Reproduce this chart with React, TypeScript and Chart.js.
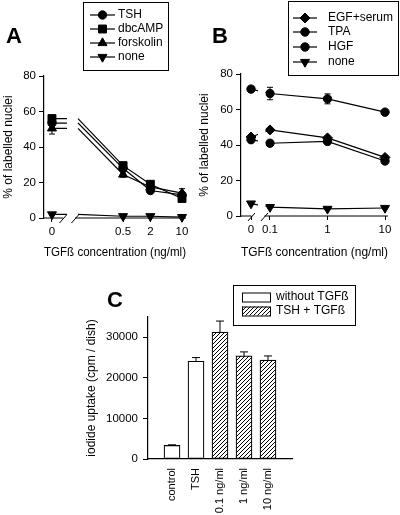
import React, { useEffect, useRef } from 'react';
import { Chart, registerables } from 'chart.js';
import { drawPoint } from 'chart.js/helpers';

Chart.register(...registerables);

const FONT = "'Liberation Sans', Arial, Helvetica, sans-serif";
Chart.defaults.font.family = FONT;
Chart.defaults.font.size = 12;
Chart.defaults.color = '#000';

// ---------------- Panel A data ----------------
const concA = [0, 0.5, 2, 10];
const concLabelsA = ['0', '0.5', '2', '10'];
const tshA = [53.5, 28, 15.5, 13];
const dbcampA = [56, 29.5, 19, 11];
const forskolinA = [50.5, 24.5, 17.5, 14];
const noneA = [2, 1, 1, 0.5];
const tshErrA = [1.5, 1, 1, 1];
const dbcampErrA = [1.5, 1.5, 1, 1];
const forskolinErrA = [3.2, 1.5, 1, 2.5];
const noneErrA = [0.5, 0.3, 0.3, 0.3];
const yTicksA = [0, 20, 40, 60, 80];

// ---------------- Panel B data ----------------
const concB = [0, 0.1, 1, 10];
const concLabelsB = ['0', '0.1', '1', '10'];
const egfB = [44.5, 48.5, 44, 33];
const tpaB = [43, 41, 42, 31];
const hgfB = [71.5, 69, 66, 58.5];
const noneB = [7, 5, 4, 4.5];
const egfErrB = [1, 1, 1, 1];
const tpaErrB = [1, 1, 1, 1];
const hgfErrB = [1, 3.5, 2.8, 1];
const noneErrB = [0.5, 0.5, 0.5, 0.5];
const yTicksB = [0, 20, 40, 60, 80];

// ---------------- Panel C data ----------------
const groupsC = ['control', 'TSH', '0.1 ng/ml', '1 ng/ml', '10 ng/ml'];
const uptakeC = [3350, 24100, 31300, 25400, 24400];
const uptakeErrC = [150, 900, 2700, 1000, 1000];
const treatmentC = ['without TGFß', 'without TGFß', 'TSH + TGFß', 'TSH + TGFß', 'TSH + TGFß'];
const seriesC = ['without TGFß', 'TSH + TGFß'];
const yTicksC = [0, 10000, 20000, 30000];

// ---------------- axis geometry (log axis with broken-off zero) ----------------
const A_ZERO = -1.87, A_MIN = -2.046, A_MAX = 1.088, A_STUB_END = -1.539, A_RESUME = -1.296;
const A_BREAK = [-1.627, -1.362];
const B_ZERO = -1.33, B_MIN = -1.504, B_MAX = 1.052;
const B_GAP = [-1.209, -1.078];
const B_BREAK = [-1.322, -1.096];
const tA = (c: number) => (c === 0 ? A_ZERO : Math.log10(c));
const tB = (c: number) => (c === 0 ? B_ZERO : Math.log10(c));

const TICK_SIZE = 11.5;

const panelPlugin: any = {
  id: 'panel',
  beforeDatasetsDraw(chart: any, _a: any, opts: any) {
    const { ctx } = chart;
    const ys = chart.scales.y;
    ctx.save();
    ctx.strokeStyle = '#000';
    ctx.lineWidth = 1;
    chart.data.datasets.forEach((ds: any, di: number) => {
      const meta = chart.getDatasetMeta(di);
      meta.data.forEach((el: any, i: number) => {
        const raw = ds.data[i];
        if (!raw || raw.helper || raw.y == null || !raw.err) return;
        const top = ys.getPixelForValue(raw.y + raw.err);
        const bottom = opts.errUpOnly ? el.y : ys.getPixelForValue(raw.y - raw.err);
        const cap = opts.cap ?? 3;
        ctx.beginPath();
        ctx.moveTo(el.x, top);
        ctx.lineTo(el.x, bottom);
        ctx.moveTo(el.x - cap, top);
        ctx.lineTo(el.x + cap, top);
        if (!opts.errUpOnly) {
          ctx.moveTo(el.x - cap, bottom);
          ctx.lineTo(el.x + cap, bottom);
        }
        ctx.stroke();
      });
    });
    ctx.restore();
    if (opts.gap) {
      const xs = chart.scales.x;
      const g0 = xs.getPixelForValue(opts.gap[0]);
      const g1 = xs.getPixelForValue(opts.gap[1]);
      ctx.save();
      ctx.beginPath();
      ctx.rect(0, 0, chart.width, chart.height);
      ctx.rect(g0, 0, g1 - g0, chart.height);
      ctx.clip('evenodd');
    }
  },
  afterDatasetsDraw(chart: any, _a: any, opts: any) {
    if (opts.gap) chart.ctx.restore();
  },
  afterDraw(chart: any, _a: any, opts: any) {
    const { ctx, chartArea } = chart;
    if (opts.axisBreak) {
      const xs = chart.scales.x;
      const y = chartArea.bottom;
      const b0 = xs.getPixelForValue(opts.axisBreak[0]);
      const b1 = xs.getPixelForValue(opts.axisBreak[1]);
      ctx.save();
      ctx.strokeStyle = '#000';
      ctx.lineWidth = 1.2;
      ctx.beginPath();
      ctx.moveTo(chartArea.left - 0.6, y);
      ctx.lineTo(b0, y);
      ctx.moveTo(b1, y);
      ctx.lineTo(chartArea.right, y);
      ctx.stroke();
      ctx.lineWidth = 1;
      for (const cx of [b0, b1]) {
        ctx.beginPath();
        ctx.moveTo(cx - 3.5, y + 5);
        ctx.lineTo(cx + 3.5, y - 3);
        ctx.stroke();
      }
      ctx.restore();
    }
    if (opts.letter) {
      ctx.save();
      ctx.font = `bold 22px ${FONT}`;
      ctx.fillStyle = '#000';
      ctx.textBaseline = 'alphabetic';
      ctx.textAlign = 'left';
      ctx.fillText(opts.letter.text, opts.letter.x, opts.letter.y);
      ctx.restore();
    }
    if (opts.legend) {
      const L = opts.legend;
      ctx.save();
      ctx.fillStyle = '#fff';
      ctx.fillRect(L.box[0], L.box[1], L.box[2], L.box[3]);
      ctx.strokeStyle = '#000';
      ctx.lineWidth = 1;
      ctx.strokeRect(L.box[0] + 0.5, L.box[1] + 0.5, L.box[2], L.box[3]);
      ctx.font = `12px ${FONT}`;
      ctx.textBaseline = 'middle';
      ctx.textAlign = 'left';
      chart.data.datasets.forEach((ds: any, i: number) => {
        const y = L.rows[i];
        if (L.kind === 'line') {
          ctx.strokeStyle = '#000';
          ctx.lineWidth = 1.2;
          ctx.beginPath();
          ctx.moveTo(L.line[0], y);
          ctx.lineTo(L.line[1], y);
          ctx.stroke();
          ctx.fillStyle = '#000';
          ctx.lineWidth = 1;
          drawPoint(
            ctx,
            { pointStyle: ds.pointStyle, rotation: ds.pointRotation || 0, radius: ds.markerRadius, borderWidth: 1 } as any,
            (L.line[0] + L.line[1]) / 2,
            y
          );
        } else {
          const [sx, sw, sh] = L.swatch;
          ctx.fillStyle = ds.backgroundColor;
          ctx.fillRect(sx, y - sh / 2, sw, sh);
          ctx.strokeStyle = '#000';
          ctx.lineWidth = 1;
          ctx.strokeRect(sx + 0.5, y - sh / 2 + 0.5, sw, sh);
        }
        ctx.fillStyle = '#000';
        ctx.fillText(ds.label, L.textX, y);
      });
      ctx.restore();
    }
  },
};

function lineDs(label: string, data: any[], pointStyle: string, radius: number, rotation = 0) {
  return {
    label,
    data,
    pointStyle,
    pointRotation: rotation,
    markerRadius: radius,
    pointRadius: (c: any) => (c.raw && c.raw.helper ? 0 : radius),
    pointHoverRadius: 0,
    pointBackgroundColor: '#000',
    pointBorderColor: '#000',
    pointBorderWidth: 1,
    borderColor: '#000',
    backgroundColor: '#000',
    borderWidth: 1.2,
    fill: false,
    tension: 0,
    spanGaps: false,
    clip: false,
  };
}

function seriesA(values: number[], errs: number[]) {
  const pts = concA.map((c, i) => ({ x: tA(c), y: values[i], err: errs[i] }));
  return [
    pts[0],
    { x: A_STUB_END, y: values[0], helper: true },
    { x: (A_STUB_END + A_RESUME) / 2, y: null, helper: true },
    { x: A_RESUME, y: values[0], helper: true },
    ...pts.slice(1),
  ];
}

function seriesB(values: number[], errs: number[]) {
  return concB.map((c, i) => ({ x: tB(c), y: values[i], err: errs[i] }));
}

const noPad = (s: any) => {
  s.paddingLeft = 0;
  s.paddingRight = 0;
  s.paddingTop = 0;
  s.paddingBottom = 0;
};

const yAxis = (ticks: number[], max: number, width: number, title: string, titlePad: number) => ({
  type: 'linear',
  min: 0,
  max,
  afterBuildTicks: (s: any) => {
    s.ticks = ticks.map((v) => ({ value: v }));
  },
  ticks: { callback: (v: any) => String(v), font: { size: TICK_SIZE }, color: '#000', padding: 3 },
  grid: { display: true, drawOnChartArea: false, drawTicks: true, tickLength: 5, color: '#000', lineWidth: 1 },
  border: { display: true, color: '#000', width: 1.2 },
  title: { display: true, text: title, font: { size: 12 }, color: '#000', padding: { top: titlePad, bottom: 0 } },
  afterFit: (s: any) => {
    s.width = width;
    noPad(s);
  },
});

const logX = (min: number, max: number, concs: number[], labels: string[], t: (c: number) => number, height: number) => ({
  type: 'linear',
  min,
  max,
  afterBuildTicks: (s: any) => {
    s.ticks = concs.map((c) => ({ value: t(c) }));
  },
  ticks: { callback: (_v: any, i: number) => labels[i], autoSkip: false, maxRotation: 0, font: { size: TICK_SIZE }, color: '#000', padding: 3 },
  grid: { display: true, drawOnChartArea: false, drawTicks: true, tickLength: 4, color: '#000', lineWidth: 1 },
  border: { display: false },
  title: { display: true, text: 'TGFß concentration (ng/ml)', font: { size: 12 }, color: '#000', padding: { top: 0, bottom: 4.8 } },
  afterFit: (s: any) => {
    s.height = height;
    noPad(s);
  },
});

const baseOptions = {
  responsive: false,
  maintainAspectRatio: false,
  animation: false,
  events: [],
};

function configA() {
  return {
    type: 'line',
    data: {
      datasets: [
        lineDs('TSH', seriesA(tshA, tshErrA), 'circle', 4.2),
        lineDs('dbcAMP', seriesA(dbcampA, dbcampErrA), 'rect', 5.6),
        lineDs('forskolin', seriesA(forskolinA, forskolinErrA), 'triangle', 5.2),
        lineDs('none', seriesA(noneA, noneErrA), 'triangle', 5.2, 180),
      ],
    },
    options: {
      ...baseOptions,
      layout: { padding: { left: 0, top: 76, right: 14, bottom: 0 } },
      plugins: {
        legend: { display: false },
        tooltip: { enabled: false },
        panel: {
          axisBreak: A_BREAK,
          cap: 3,
          letter: { text: 'A', x: 6, y: 43 },
          legend: { kind: 'line', box: [83, 2, 85, 68], rows: [15, 29, 43, 57], line: [90, 115], textX: 118 },
        },
      },
      scales: {
        x: logX(A_MIN, A_MAX, concA, concLabelsA, tA, 47),
        y: yAxis(yTicksA, 80, 44, '% of labelled nuclei', 1.8),
      },
    },
    plugins: [panelPlugin],
  };
}

function configB() {
  return {
    type: 'line',
    data: {
      datasets: [
        lineDs('EGF+serum', seriesB(egfB, egfErrB), 'rectRot', 5),
        lineDs('TPA', seriesB(tpaB, tpaErrB), 'circle', 4.2),
        lineDs('HGF', seriesB(hgfB, hgfErrB), 'circle', 4.2),
        lineDs('none', seriesB(noneB, noneErrB), 'triangle', 5.2, 180),
      ],
    },
    options: {
      ...baseOptions,
      layout: { padding: { left: 0, top: 74, right: 12, bottom: 0 } },
      plugins: {
        legend: { display: false },
        tooltip: { enabled: false },
        panel: {
          axisBreak: B_BREAK,
          gap: B_GAP,
          cap: 3,
          letter: { text: 'B', x: 16, y: 43 },
          legend: { kind: 'line', box: [92, 1, 110, 74], rows: [18, 32, 47, 62], line: [97, 121], textX: 132 },
        },
      },
      scales: {
        x: logX(B_MIN, B_MAX, concB, concLabelsB, tB, 49),
        y: yAxis(yTicksB, 80, 45, '% of labelled nuclei', 1.8),
      },
    },
    plugins: [panelPlugin],
  };
}

function makeHatch(ctx: CanvasRenderingContext2D) {
  const c = document.createElement('canvas');
  c.width = 4;
  c.height = 4;
  const g = c.getContext('2d')!;
  g.fillStyle = '#fff';
  g.fillRect(0, 0, 4, 4);
  g.strokeStyle = '#000';
  g.lineWidth = 1;
  g.beginPath();
  g.moveTo(0, 4);
  g.lineTo(4, 0);
  g.moveTo(-1, 1);
  g.lineTo(1, -1);
  g.moveTo(3, 5);
  g.lineTo(5, 3);
  g.stroke();
  return ctx.createPattern(c, 'repeat');
}

function configC(ctx: CanvasRenderingContext2D) {
  const hatch = makeHatch(ctx);
  const pts = groupsC.map((_, i) => ({ x: i, y: uptakeC[i], err: uptakeErrC[i], t: treatmentC[i] }));
  return {
    type: 'bar',
    data: {
      datasets: seriesC.map((name, k) => ({
        label: name,
        data: pts.filter((p) => p.t === name),
        backgroundColor: k === 0 ? '#fff' : hatch,
        borderColor: '#000',
        borderWidth: 1.2,
        borderSkipped: false,
        barThickness: 16,
        grouped: false,
      })),
    },
    options: {
      ...baseOptions,
      layout: { padding: { left: 0, top: 52, right: 108, bottom: 0 } },
      plugins: {
        legend: { display: false },
        tooltip: { enabled: false },
        panel: {
          errUpOnly: true,
          cap: 4,
          letter: { text: 'C', x: 107, y: 42 },
          legend: { kind: 'box', box: [233, 20, 122, 40], rows: [32, 46], swatch: [242, 28, 9], textX: 276 },
        },
      },
      scales: {
        x: {
          type: 'linear',
          offset: false,
          min: -1,
          max: 5,
          afterBuildTicks: (s: any) => {
            s.ticks = groupsC.map((_, i) => ({ value: i }));
          },
          ticks: {
            callback: (v: any) => groupsC[v],
            autoSkip: false,
            minRotation: 90,
            maxRotation: 90,
            padding: 9,
            font: { size: 11 },
            color: '#000',
          },
          grid: { display: false, drawTicks: false },
          border: { display: true, color: '#000', width: 1.2 },
          afterFit: (s: any) => {
            s.height = 56;
            noPad(s);
          },
        },
        y: {
          type: 'linear',
          min: 0,
          max: 35000,
          afterBuildTicks: (s: any) => {
            s.ticks = yTicksC.map((v) => ({ value: v }));
          },
          ticks: { callback: (v: any) => String(v), font: { size: TICK_SIZE }, color: '#000', padding: 5 },
          grid: { display: true, drawOnChartArea: false, drawTicks: true, tickLength: 5, color: '#000', lineWidth: 1 },
          border: { display: true, color: '#000', width: 1.2 },
          title: {
            display: true,
            text: 'iodide uptake (cpm / dish)',
            font: { size: 12 },
            color: '#000',
            padding: { top: 84.8, bottom: 0 },
          },
          afterFit: (s: any) => {
            s.width = 148;
            noPad(s);
          },
        },
      },
    },
    plugins: [panelPlugin],
  };
}

function Panel(props: { left: number; top: number; width: number; height: number; make: (ctx: CanvasRenderingContext2D) => any }) {
  const ref = useRef<HTMLCanvasElement>(null);
  useEffect(() => {
    const canvas = ref.current!;
    const chart = new Chart(canvas, props.make(canvas.getContext('2d')!));
    return () => chart.destroy();
  }, []);
  return (
    <div style={{ position: 'absolute', left: props.left, top: props.top, width: props.width, height: props.height }}>
      <canvas ref={ref} width={props.width} height={props.height} style={{ display: 'block' }} />
    </div>
  );
}

export default function App() {
  return (
    <div style={{ position: 'absolute', left: 0, top: 0, width: 400, height: 515, background: '#fff', overflow: 'hidden' }}>
      <Panel left={0} top={0} width={200} height={265} make={configA} />
      <Panel left={196} top={0} width={204} height={265} make={configB} />
      <Panel left={0} top={265} width={400} height={250} make={configC} />
    </div>
  );
}
